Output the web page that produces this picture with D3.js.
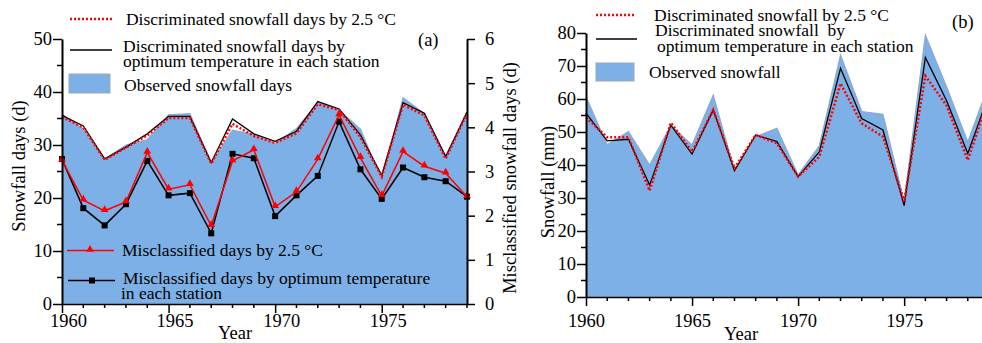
<!DOCTYPE html>
<html>
<head>
<meta charset="utf-8">
<script src="https://cdn.jsdelivr.net/npm/d3@7"></script>
<style>
  body { margin: 0; background: #fff; }
  svg text { font-family: "Liberation Serif", "Times New Roman", serif !important; }
</style>
</head>
<body>
<svg id="chart" width="982" height="343"></svg>
<script>
var years = d3.range(1960, 1980);

// (a) snowfall days (left axis, d)
var obsDays = [35.8, 33.0, 27.3, 30.0, 31.0, 35.7, 35.9, 26.6, 32.8, 32.0, 30.3, 33.1, 38.0, 36.6, 33.0, 23.5, 38.9, 35.9, 27.9, 36.1];
var optDays = [35.6, 33.6, 27.4, 29.6, 32.1, 35.4, 35.4, 26.7, 34.9, 32.1, 30.7, 32.6, 38.2, 36.8, 31.9, 24.3, 38.0, 36.0, 27.8, 36.2];
var t25Days = [35.3, 33.3, 27.2, 29.5, 31.8, 35.1, 35.1, 26.5, 34.0, 31.7, 30.4, 32.2, 37.7, 36.6, 31.5, 24.0, 37.6, 35.6, 27.4, 36.0];
// (a) misclassified days (right axis, d)
var misT25 = [3.25, 2.35, 2.11, 2.31, 3.43, 2.60, 2.70, 1.77, 3.24, 3.49, 2.20, 2.54, 3.28, 4.28, 3.31, 2.45, 3.45, 3.12, 2.96, 2.43];
var misOpt = [3.28, 2.17, 1.78, 2.26, 3.24, 2.46, 2.51, 1.60, 3.40, 3.30, 1.99, 2.46, 2.90, 4.13, 3.05, 2.38, 3.09, 2.87, 2.78, 2.43];

// (b) snowfall amount (mm)
var obsMm = [60.7, 46.1, 50.1, 40.0, 52.0, 46.1, 61.2, 38.3, 48.6, 51.1, 37.0, 45.8, 73.3, 56.2, 55.4, 29.0, 79.4, 63.7, 47.0, 64.6];
var optMm = [55.7, 47.3, 47.8, 33.9, 52.1, 43.3, 56.7, 38.3, 49.1, 47.1, 36.5, 44.0, 69.3, 54.1, 50.6, 27.7, 72.6, 59.5, 43.5, 61.4];
var t25Mm = [54.4, 48.4, 48.4, 32.2, 52.8, 44.0, 56.7, 39.0, 49.1, 46.6, 36.5, 42.5, 64.7, 52.6, 48.6, 29.0, 67.0, 58.0, 41.5, 60.6];

var blueFill = "#7db0e6";
var blueEdge = "#8ea9cc";
var tickFs = 18.5, legFs = 17.5, titleFs = 18.5;
var svg = d3.select("#chart");

function styleAxis(g) {
  g.selectAll("path.domain").attr("stroke", "#000").attr("stroke-width", 2);
  g.selectAll(".tick line").attr("stroke", "#000").attr("stroke-width", 1.5);
  g.selectAll(".tick text").attr("font-size", tickFs).attr("fill", "#000");
}

// small unlabeled ticks between the labelled ones
function minorTicks(g, scale, vals, len, horiz) {
  vals.forEach(function(v) {
    if (horiz) {
      g.append("line").attr("x1", scale(v)).attr("x2", scale(v)).attr("y1", 0).attr("y2", len)
        .attr("stroke", "#000").attr("stroke-width", 1.5);
    } else {
      g.append("line").attr("y1", scale(v)).attr("y2", scale(v)).attr("x1", 0).attr("x2", -len)
        .attr("stroke", "#000").attr("stroke-width", 1.5);
    }
  });
}

function areaAndLines(g, x, y, obs, opt, t25) {
  var area = d3.area().x(function(d, i) { return x(years[i]); }).y0(y(0)).y1(function(d) { return y(d); });
  var line = d3.line().x(function(d, i) { return x(years[i]); }).y(function(d) { return y(d); });
  g.append("path").datum(obs).attr("d", area).attr("fill", blueFill);
  g.append("path").datum(obs).attr("d", line).attr("fill", "none").attr("stroke", blueEdge).attr("stroke-width", 1.2);
  g.append("path").datum(opt).attr("d", line).attr("fill", "none").attr("stroke", "#000").attr("stroke-width", 1.3);
  g.append("path").datum(t25).attr("d", line).attr("fill", "none").attr("stroke", "#ff0000")
    .attr("stroke-width", 2.5).attr("stroke-dasharray", "2,2");
}

function txt(x, y, s, fs, anchor) {
  return svg.append("text").attr("x", x).attr("y", y).attr("font-size", fs)
    .attr("text-anchor", anchor || "start").attr("fill", "#000").text(s);
}

function vtitle(x, y, s) {
  svg.append("text").attr("transform", "translate(" + x + "," + y + ") rotate(-90)")
    .attr("text-anchor", "middle").attr("font-size", titleFs).attr("fill", "#000").text(s);
}

// ---------- panel (a) ----------
var xa = d3.scaleLinear().domain([1960, 1979]).range([62, 467]);
var ya = d3.scaleLinear().domain([0, 50]).range([304, 39]);
var yr = d3.scaleLinear().domain([0, 6]).range([304, 39]);

var pa = svg.append("g");
areaAndLines(pa, xa, ya, obsDays, optDays, t25Days);

var tri = d3.symbol().type(d3.symbolTriangle).size(26);
var mline = d3.line().x(function(d, i) { return xa(years[i]); }).y(function(d) { return yr(d); });
pa.append("path").datum(misOpt).attr("d", mline).attr("fill", "none").attr("stroke", "#000").attr("stroke-width", 1.5);
pa.selectAll("rect.sq").data(misOpt).enter().append("rect")
  .attr("x", function(d, i) { return xa(years[i]) - 3; }).attr("y", function(d) { return yr(d) - 3; })
  .attr("width", 6).attr("height", 6).attr("fill", "#000");
pa.append("path").datum(misT25).attr("d", mline).attr("fill", "none").attr("stroke", "#ff0000").attr("stroke-width", 1.5);
pa.selectAll("path.tri").data(misT25).enter().append("path")
  .attr("d", tri).attr("fill", "#ff0000")
  .attr("transform", function(d, i) { return "translate(" + xa(years[i]) + "," + (yr(d) - 1) + ")"; });

var gxa = svg.append("g").attr("transform", "translate(0,304)")
  .call(d3.axisBottom(xa).tickValues([1960, 1965, 1970, 1975]).tickFormat(d3.format("d")).tickSize(9).tickSizeOuter(0).tickPadding(1));
styleAxis(gxa);
gxa.select("path.domain").attr("stroke-width", 1.5);
gxa.selectAll(".tick text").attr("dx", 6);
minorTicks(gxa, xa, years.filter(function(v) { return v % 5 !== 0; }), 4, true);

var gya = svg.append("g").attr("transform", "translate(62,0)")
  .call(d3.axisLeft(ya).tickValues([0, 10, 20, 30, 40, 50]).tickSize(9).tickSizeOuter(0).tickPadding(1));
styleAxis(gya);
minorTicks(gya, ya, [5, 15, 25, 35, 45], 5, false);

var gyr = svg.append("g").attr("transform", "translate(467,0)")
  .call(d3.axisRight(yr).ticks(6).tickSize(8).tickSizeOuter(0).tickPadding(10));
styleAxis(gyr);

txt(235, 339, "Year", titleFs, "middle");
vtitle(25, 166, "Snowfall days (d)");
vtitle(516, 178, "Misclassified snowfall days (d)");
txt(418, 46, "(a)", 18.5);

// legend (a)
svg.append("line").attr("x1", 70).attr("x2", 113).attr("y1", 19).attr("y2", 19)
  .attr("stroke", "#ff0000").attr("stroke-width", 2.5).attr("stroke-dasharray", "2,2");
txt(126, 25, "Discriminated snowfall days by 2.5 °C", legFs).attr("textLength", 270);
svg.append("line").attr("x1", 70).attr("x2", 112).attr("y1", 50).attr("y2", 50).attr("stroke", "#000").attr("stroke-width", 1.3);
txt(123, 52, "Discriminated snowfall days by", legFs);
txt(123, 67, "optimum temperature in each station", legFs);
svg.append("rect").attr("x", 69).attr("y", 74).attr("width", 41).attr("height", 19)
  .attr("fill", blueFill).attr("stroke", "#9aaac0");
txt(124, 91, "Observed snowfall days", legFs);

svg.append("line").attr("x1", 67).attr("x2", 114).attr("y1", 250.5).attr("y2", 250.5).attr("stroke", "#ff0000").attr("stroke-width", 1.5);
svg.append("path").attr("d", tri).attr("fill", "#ff0000").attr("transform", "translate(90,249.5)");
txt(122, 256, "Misclassified days by 2.5 °C", legFs);
svg.append("line").attr("x1", 68).attr("x2", 115).attr("y1", 280.5).attr("y2", 280.5).attr("stroke", "#000").attr("stroke-width", 1.5);
svg.append("rect").attr("x", 89).attr("y", 277.5).attr("width", 6).attr("height", 6).attr("fill", "#000");
txt(123, 284, "Misclassified days by optimum temperature", legFs);
txt(121, 299, "in each station", legFs);

// ---------- panel (b) ----------
var xb = d3.scaleLinear().domain([1960, 1979]).range([586, 989]);
var yb = d3.scaleLinear().domain([0, 80]).range([297, 33]);

var pb = svg.append("g");
areaAndLines(pb, xb, yb, obsMm, optMm, t25Mm);

var gxb = svg.append("g").attr("transform", "translate(0,297)")
  .call(d3.axisBottom(xb).tickValues([1960, 1965, 1970, 1975]).tickFormat(d3.format("d")).tickSize(9).tickSizeOuter(0).tickPadding(8));
styleAxis(gxb);
gxb.select("path.domain").attr("stroke-width", 1.5);
minorTicks(gxb, xb, years.filter(function(v) { return v % 5 !== 0; }), 4, true);

var gyb = svg.append("g").attr("transform", "translate(586,0)")
  .call(d3.axisLeft(yb).tickValues(d3.range(0, 81, 10)).tickSize(9).tickSizeOuter(0).tickPadding(1));
styleAxis(gyb);
minorTicks(gyb, yb, d3.range(5, 80, 10), 5, false);

txt(741, 340, "Year", titleFs, "middle");
vtitle(554, 182, "Snowfall (mm)");
txt(952, 28, "(b)", 18.5);

// legend (b)
svg.append("line").attr("x1", 596).attr("x2", 634).attr("y1", 15).attr("y2", 15)
  .attr("stroke", "#ff0000").attr("stroke-width", 2.5).attr("stroke-dasharray", "2,2");
txt(654, 21, "Discriminated snowfall by 2.5 °C", legFs);
svg.append("line").attr("x1", 596).attr("x2", 637).attr("y1", 39).attr("y2", 39).attr("stroke", "#000").attr("stroke-width", 1.3);
txt(655, 36, "Discriminated snowfall\u00a0 by", legFs);
txt(657, 52, "optimum temperature in each station", legFs);
svg.append("rect").attr("x", 596).attr("y", 63).attr("width", 38).attr("height", 18)
  .attr("fill", blueFill).attr("stroke", "#9aaac0");
txt(649, 78, "Observed snowfall", legFs);
</script>
</body>
</html>
